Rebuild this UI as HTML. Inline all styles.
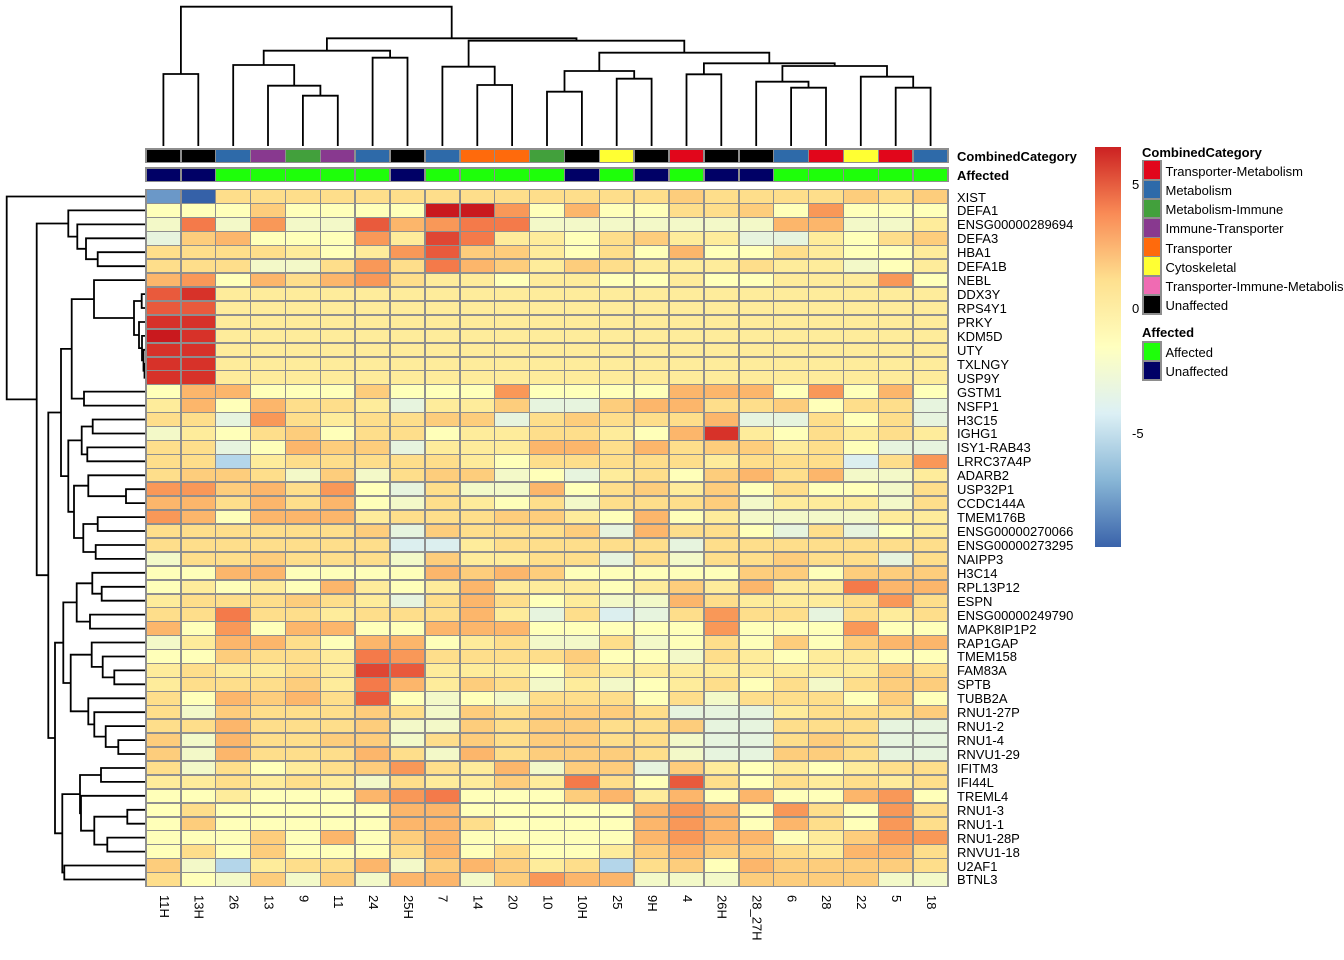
<!DOCTYPE html>
<html><head><meta charset="utf-8"><style>
*{margin:0;padding:0;box-sizing:border-box}
body{width:1344px;height:960px;overflow:hidden;background:#fff;position:relative;font-family:"Liberation Sans",Arial,sans-serif;color:#000}
.hm{position:absolute;left:145.25px;top:188.75px;width:803.5px;height:698.5px;padding:1.5px;background:#8e8e8e;display:grid;grid-template-columns:repeat(23,1fr);grid-template-rows:repeat(50,1fr);gap:1.5px}
.hm i,.an i,.kg i{display:block}
.an{position:absolute;left:145.25px;width:803.5px;height:15.2px;padding:1.5px;background:#8e8e8e;display:grid;grid-template-columns:repeat(23,1fr);gap:1.5px}
.R{background:#c9191e}.r{background:#d73229}.s{background:#df4633}.e{background:#e95a3c}.O{background:#f47a4a}.o{background:#f99858}.p{background:#fcb66b}.q{background:#fdcd7c}.k{background:#fede8b}.y{background:#feec9b}.Y{background:#ffffb9}.g{background:#f3f9c8}.G{background:#e7f4de}.c{background:#dcefef}.b{background:#b4d6ea}.B{background:#6b98c8}.D{background:#3561a8}
.a1{background:#e1061b}.a2{background:#2e6aa9}.a3{background:#42a03c}.a4{background:#88398f}.a5{background:#ff6a0c}.a6{background:#ffff33}.a7{background:#f06bb3}.a0{background:#000}.af{background:#1eff0a}.au{background:#000066}
.rl{position:absolute;left:957px;top:190.5px;font-size:13px}
.rl div{height:13.94px;line-height:13.94px;white-space:nowrap}
.cl{position:absolute;left:146px;top:895px;display:flex;font-size:13px}
.cl div{width:34.87px;writing-mode:vertical-rl;line-height:34.87px;white-space:nowrap}
.t{position:absolute;font-size:13px;line-height:16px;white-space:nowrap}
.bd{font-weight:bold}
.kg{position:absolute;left:1142px;width:19.5px;padding:1.5px;background:#8e8e8e;display:grid;gap:1.5px}
.cb{position:absolute;left:1095px;top:146.7px;width:26px;height:400px;background:linear-gradient(to top,#3a63aa 0%,#88b6d6 16.67%,#dcf0f5 33.33%,#ffffbf 50%,#fee08f 66.67%,#f98b56 83.33%,#cc2122 100%)}
svg{position:absolute;left:0;top:0}
</style></head><body>
<svg width="1344" height="960" viewBox="0 0 1344 960"><g fill="none" stroke="#000" stroke-width="1.8" stroke-linejoin="miter">
<path d="M146 252.2H97.7V266.2H146"/><path d="M146 238.3H86V259.2H97.7"/><path d="M146 224.4H77.3V248.8H86"/><path d="M146 210.4H68.3V236.6H77.3"/>
<path d="M146 294.1H141.7V308H146"/><path d="M146 363.8H144.5V377.7H146"/><path d="M146 349.8H143.5V370.7H144.5"/><path d="M146 335.9H142V360.3H143.5"/><path d="M146 322H139V348.1H142"/><path d="M141.7 301H134V335H139"/><path d="M146 280.1H94V318H134"/>
<path d="M146 391.6H84V405.6H146"/><path d="M94 299.1H71.7V398.6H84"/>
<path d="M146 419.5H92.7V433.5H146"/><path d="M146 447.4H87.3V461.3H146"/><path d="M92.7 426.5H81.7V454.4H87.3"/>
<path d="M146 489.2H126V503.1H146"/><path d="M146 475.3H88.3V496.2H126"/><path d="M146 517.1H97.7V531H146"/><path d="M146 545H95.7V558.9H146"/><path d="M97.7 524H83.3V552H95.7"/><path d="M88.3 485.7H74V538H83.3"/><path d="M81.7 440.4H68.3V511.8H74"/><path d="M71.7 348.9H61V476.1H68.3"/>
<path d="M146 586.8H101.7V600.7H146"/><path d="M146 572.8H92.3V593.7H101.7"/><path d="M146 614.6H90V628.6H146"/><path d="M92.3 583.3H76.7V621.6H90"/>
<path d="M146 670.4H114.3V684.3H146"/><path d="M146 656.5H102.7V677.4H114.3"/><path d="M146 642.5H91.7V666.9H102.7"/>
<path d="M146 740.1H118.3V754H146"/><path d="M146 726.1H105.7V747H118.3"/><path d="M146 712.2H94.3V736.6H105.7"/><path d="M146 698.3H88.3V724.4H94.3"/><path d="M91.7 654.7H70.7V711.3H88.3"/><path d="M76.7 602.4H63.3V683H70.7"/>
<path d="M146 768H101V781.9H146"/><path d="M146 809.8H127.3V823.7H146"/><path d="M146 837.6H107.3V851.6H146"/><path d="M127.3 816.7H94.3V844.6H107.3"/><path d="M146 795.8H81V830.7H94.3"/><path d="M101 775H80V813.2H81"/><path d="M146 865.5H64.3V879.5H146"/><path d="M80 794.1H62.3V872.5H64.3"/><path d="M63.3 642.7H55V833.3H62.3"/><path d="M61 412.5H48.3V738H55"/><path d="M68.3 223.5H36.7V575.2H48.3"/><path d="M146 196.5H6.7V399.4H36.7"/>
<path d="M163.4 146V74H198.3V146"/><path d="M302.9 146V95.7H337.8V146"/><path d="M268 146V85.7H320.4V95.7"/><path d="M233.2 146V65H294.2V85.7"/><path d="M372.6 146V57.7H407.5V146"/><path d="M263.7 65V50.7H390.1V57.7"/>
<path d="M477.3 146V85H512.1V146"/><path d="M442.4 146V66.7H494.7V85"/><path d="M547 146V91.7H581.9V146"/><path d="M616.7 146V78.7H651.6V146"/><path d="M564.5 91.7V71H634.2V78.7"/>
<path d="M686.5 146V74.3H721.3V146"/><path d="M791.1 146V87.7H826V146"/><path d="M756.2 146V81.7H808.5V87.7"/><path d="M895.7 146V87.7H930.6V146"/><path d="M860.8 146V76.7H913.2V87.7"/><path d="M782.4 81.7V66H887V76.7"/><path d="M703.9 74.3V63.3H834.7V66"/><path d="M599.3 71V52.7H769.3V63.3"/><path d="M468.6 66.7V40.7H684.3V52.7"/><path d="M326.9 50.7V38.3H576.5V40.7"/><path d="M180.9 74V6.7H451.7V38.3"/>
</g></svg>

<div class="an" style="top:148.2px"><i class=a0></i><i class=a0></i><i class=a2></i><i class=a4></i><i class=a3></i><i class=a4></i><i class=a2></i><i class=a0></i><i class=a2></i><i class=a5></i><i class=a5></i><i class=a3></i><i class=a0></i><i class=a6></i><i class=a0></i><i class=a1></i><i class=a0></i><i class=a0></i><i class=a2></i><i class=a1></i><i class=a6></i><i class=a1></i><i class=a2></i></div>
<div class="an" style="top:167.2px"><i class=au></i><i class=au></i><i class=af></i><i class=af></i><i class=af></i><i class=af></i><i class=af></i><i class=au></i><i class=af></i><i class=af></i><i class=af></i><i class=af></i><i class=au></i><i class=af></i><i class=au></i><i class=af></i><i class=au></i><i class=au></i><i class=af></i><i class=af></i><i class=af></i><i class=af></i><i class=af></i></div>
<div class="t bd" style="left:957px;top:149px">CombinedCategory</div>
<div class="t bd" style="left:957px;top:168px">Affected</div>

<div class="hm">
<i class=B></i><i class=D></i><i class=k></i><i class=k></i><i class=k></i><i class=k></i><i class=k></i><i class=k></i><i class=k></i><i class=k></i><i class=k></i><i class=k></i><i class=k></i><i class=k></i><i class=k></i><i class=q></i><i class=k></i><i class=k></i><i class=k></i><i class=k></i><i class=q></i><i class=k></i><i class=q></i>
<i class=Y></i><i class=Y></i><i class=Y></i><i class=q></i><i class=Y></i><i class=Y></i><i class=Y></i><i class=Y></i><i class=R></i><i class=R></i><i class=o></i><i class=Y></i><i class=p></i><i class=Y></i><i class=Y></i><i class=k></i><i class=k></i><i class=q></i><i class=Y></i><i class=o></i><i class=Y></i><i class=Y></i><i class=Y></i>
<i class=g></i><i class=O></i><i class=g></i><i class=o></i><i class=g></i><i class=g></i><i class=e></i><i class=p></i><i class=o></i><i class=O></i><i class=O></i><i class=g></i><i class=g></i><i class=g></i><i class=g></i><i class=g></i><i class=g></i><i class=g></i><i class=p></i><i class=p></i><i class=g></i><i class=g></i><i class=y></i>
<i class=G></i><i class=q></i><i class=p></i><i class=Y></i><i class=Y></i><i class=Y></i><i class=o></i><i class=y></i><i class=s></i><i class=O></i><i class=y></i><i class=y></i><i class=Y></i><i class=k></i><i class=q></i><i class=y></i><i class=y></i><i class=G></i><i class=G></i><i class=y></i><i class=Y></i><i class=k></i><i class=q></i>
<i class=k></i><i class=k></i><i class=k></i><i class=k></i><i class=y></i><i class=Y></i><i class=y></i><i class=o></i><i class=e></i><i class=q></i><i class=q></i><i class=y></i><i class=Y></i><i class=k></i><i class=Y></i><i class=p></i><i class=Y></i><i class=Y></i><i class=k></i><i class=y></i><i class=Y></i><i class=Y></i><i class=y></i>
<i class=k></i><i class=k></i><i class=k></i><i class=g></i><i class=g></i><i class=k></i><i class=o></i><i class=k></i><i class=O></i><i class=p></i><i class=q></i><i class=y></i><i class=q></i><i class=k></i><i class=y></i><i class=y></i><i class=y></i><i class=k></i><i class=y></i><i class=y></i><i class=g></i><i class=Y></i><i class=y></i>
<i class=p></i><i class=o></i><i class=Y></i><i class=p></i><i class=k></i><i class=p></i><i class=o></i><i class=k></i><i class=y></i><i class=y></i><i class=Y></i><i class=y></i><i class=y></i><i class=Y></i><i class=Y></i><i class=y></i><i class=Y></i><i class=Y></i><i class=y></i><i class=y></i><i class=y></i><i class=o></i><i class=Y></i>
<i class=e></i><i class=r></i><i class=y></i><i class=y></i><i class=y></i><i class=y></i><i class=y></i><i class=y></i><i class=y></i><i class=y></i><i class=y></i><i class=y></i><i class=y></i><i class=y></i><i class=y></i><i class=y></i><i class=y></i><i class=y></i><i class=y></i><i class=y></i><i class=y></i><i class=y></i><i class=y></i>
<i class=e></i><i class=e></i><i class=y></i><i class=y></i><i class=y></i><i class=y></i><i class=y></i><i class=y></i><i class=y></i><i class=y></i><i class=y></i><i class=y></i><i class=y></i><i class=y></i><i class=y></i><i class=y></i><i class=y></i><i class=y></i><i class=y></i><i class=y></i><i class=y></i><i class=y></i><i class=y></i>
<i class=r></i><i class=r></i><i class=y></i><i class=y></i><i class=y></i><i class=y></i><i class=y></i><i class=y></i><i class=y></i><i class=y></i><i class=y></i><i class=y></i><i class=y></i><i class=y></i><i class=y></i><i class=y></i><i class=y></i><i class=y></i><i class=y></i><i class=y></i><i class=y></i><i class=y></i><i class=y></i>
<i class=R></i><i class=r></i><i class=y></i><i class=y></i><i class=y></i><i class=y></i><i class=y></i><i class=y></i><i class=y></i><i class=y></i><i class=y></i><i class=y></i><i class=y></i><i class=y></i><i class=y></i><i class=y></i><i class=y></i><i class=y></i><i class=y></i><i class=y></i><i class=y></i><i class=y></i><i class=y></i>
<i class=r></i><i class=r></i><i class=y></i><i class=y></i><i class=y></i><i class=y></i><i class=y></i><i class=y></i><i class=y></i><i class=y></i><i class=y></i><i class=y></i><i class=y></i><i class=y></i><i class=y></i><i class=y></i><i class=y></i><i class=y></i><i class=y></i><i class=y></i><i class=y></i><i class=y></i><i class=y></i>
<i class=r></i><i class=r></i><i class=y></i><i class=y></i><i class=y></i><i class=y></i><i class=y></i><i class=y></i><i class=y></i><i class=y></i><i class=y></i><i class=y></i><i class=y></i><i class=y></i><i class=y></i><i class=y></i><i class=y></i><i class=y></i><i class=y></i><i class=y></i><i class=y></i><i class=y></i><i class=y></i>
<i class=r></i><i class=r></i><i class=y></i><i class=y></i><i class=y></i><i class=y></i><i class=y></i><i class=y></i><i class=y></i><i class=y></i><i class=y></i><i class=y></i><i class=y></i><i class=y></i><i class=y></i><i class=y></i><i class=y></i><i class=y></i><i class=y></i><i class=y></i><i class=y></i><i class=y></i><i class=y></i>
<i class=Y></i><i class=p></i><i class=p></i><i class=Y></i><i class=Y></i><i class=Y></i><i class=q></i><i class=Y></i><i class=Y></i><i class=Y></i><i class=o></i><i class=Y></i><i class=Y></i><i class=Y></i><i class=Y></i><i class=p></i><i class=p></i><i class=p></i><i class=Y></i><i class=o></i><i class=Y></i><i class=p></i><i class=Y></i>
<i class=y></i><i class=p></i><i class=Y></i><i class=p></i><i class=k></i><i class=k></i><i class=y></i><i class=G></i><i class=y></i><i class=y></i><i class=q></i><i class=G></i><i class=G></i><i class=q></i><i class=p></i><i class=p></i><i class=k></i><i class=k></i><i class=q></i><i class=Y></i><i class=k></i><i class=k></i><i class=G></i>
<i class=k></i><i class=k></i><i class=G></i><i class=o></i><i class=k></i><i class=y></i><i class=k></i><i class=k></i><i class=q></i><i class=q></i><i class=G></i><i class=k></i><i class=q></i><i class=k></i><i class=k></i><i class=k></i><i class=p></i><i class=G></i><i class=G></i><i class=k></i><i class=Y></i><i class=k></i><i class=G></i>
<i class=g></i><i class=y></i><i class=Y></i><i class=k></i><i class=q></i><i class=Y></i><i class=k></i><i class=k></i><i class=Y></i><i class=y></i><i class=y></i><i class=k></i><i class=k></i><i class=y></i><i class=Y></i><i class=p></i><i class=r></i><i class=y></i><i class=Y></i><i class=k></i><i class=y></i><i class=k></i><i class=y></i>
<i class=k></i><i class=k></i><i class=G></i><i class=Y></i><i class=p></i><i class=q></i><i class=q></i><i class=G></i><i class=y></i><i class=y></i><i class=y></i><i class=p></i><i class=p></i><i class=k></i><i class=p></i><i class=k></i><i class=q></i><i class=q></i><i class=y></i><i class=k></i><i class=Y></i><i class=G></i><i class=G></i>
<i class=k></i><i class=k></i><i class=b></i><i class=y></i><i class=k></i><i class=k></i><i class=k></i><i class=k></i><i class=k></i><i class=y></i><i class=Y></i><i class=k></i><i class=k></i><i class=k></i><i class=k></i><i class=k></i><i class=y></i><i class=k></i><i class=k></i><i class=k></i><i class=c></i><i class=k></i><i class=o></i>
<i class=k></i><i class=q></i><i class=q></i><i class=k></i><i class=g></i><i class=q></i><i class=g></i><i class=k></i><i class=q></i><i class=q></i><i class=g></i><i class=Y></i><i class=G></i><i class=y></i><i class=k></i><i class=Y></i><i class=q></i><i class=p></i><i class=k></i><i class=p></i><i class=g></i><i class=g></i><i class=y></i>
<i class=o></i><i class=o></i><i class=q></i><i class=p></i><i class=k></i><i class=o></i><i class=Y></i><i class=G></i><i class=k></i><i class=g></i><i class=g></i><i class=p></i><i class=Y></i><i class=k></i><i class=q></i><i class=y></i><i class=q></i><i class=Y></i><i class=k></i><i class=Y></i><i class=Y></i><i class=g></i><i class=k></i>
<i class=p></i><i class=p></i><i class=k></i><i class=p></i><i class=k></i><i class=p></i><i class=Y></i><i class=g></i><i class=k></i><i class=y></i><i class=Y></i><i class=k></i><i class=g></i><i class=k></i><i class=k></i><i class=k></i><i class=q></i><i class=g></i><i class=y></i><i class=y></i><i class=y></i><i class=g></i><i class=k></i>
<i class=o></i><i class=p></i><i class=Y></i><i class=p></i><i class=p></i><i class=p></i><i class=y></i><i class=k></i><i class=k></i><i class=k></i><i class=q></i><i class=q></i><i class=y></i><i class=Y></i><i class=p></i><i class=Y></i><i class=y></i><i class=g></i><i class=g></i><i class=g></i><i class=g></i><i class=y></i><i class=y></i>
<i class=k></i><i class=k></i><i class=k></i><i class=k></i><i class=k></i><i class=k></i><i class=q></i><i class=G></i><i class=q></i><i class=k></i><i class=k></i><i class=k></i><i class=q></i><i class=G></i><i class=p></i><i class=k></i><i class=k></i><i class=Y></i><i class=G></i><i class=k></i><i class=G></i><i class=Y></i><i class=y></i>
<i class=k></i><i class=k></i><i class=k></i><i class=k></i><i class=k></i><i class=k></i><i class=k></i><i class=c></i><i class=c></i><i class=y></i><i class=k></i><i class=k></i><i class=k></i><i class=k></i><i class=k></i><i class=G></i><i class=k></i><i class=k></i><i class=k></i><i class=k></i><i class=k></i><i class=k></i><i class=k></i>
<i class=g></i><i class=k></i><i class=k></i><i class=q></i><i class=k></i><i class=k></i><i class=k></i><i class=g></i><i class=q></i><i class=y></i><i class=y></i><i class=k></i><i class=k></i><i class=G></i><i class=k></i><i class=g></i><i class=k></i><i class=k></i><i class=q></i><i class=k></i><i class=k></i><i class=G></i><i class=k></i>
<i class=Y></i><i class=Y></i><i class=p></i><i class=p></i><i class=Y></i><i class=Y></i><i class=Y></i><i class=Y></i><i class=p></i><i class=q></i><i class=p></i><i class=q></i><i class=Y></i><i class=Y></i><i class=Y></i><i class=Y></i><i class=Y></i><i class=q></i><i class=q></i><i class=Y></i><i class=q></i><i class=q></i><i class=q></i>
<i class=Y></i><i class=y></i><i class=Y></i><i class=y></i><i class=Y></i><i class=p></i><i class=y></i><i class=Y></i><i class=y></i><i class=p></i><i class=y></i><i class=y></i><i class=y></i><i class=Y></i><i class=y></i><i class=q></i><i class=y></i><i class=p></i><i class=y></i><i class=y></i><i class=O></i><i class=p></i><i class=p></i>
<i class=y></i><i class=k></i><i class=k></i><i class=k></i><i class=q></i><i class=k></i><i class=y></i><i class=G></i><i class=k></i><i class=p></i><i class=k></i><i class=Y></i><i class=y></i><i class=g></i><i class=g></i><i class=p></i><i class=k></i><i class=y></i><i class=y></i><i class=y></i><i class=k></i><i class=o></i><i class=k></i>
<i class=k></i><i class=k></i><i class=O></i><i class=k></i><i class=k></i><i class=y></i><i class=k></i><i class=k></i><i class=k></i><i class=p></i><i class=y></i><i class=G></i><i class=k></i><i class=c></i><i class=G></i><i class=k></i><i class=o></i><i class=k></i><i class=k></i><i class=G></i><i class=k></i><i class=y></i><i class=k></i>
<i class=p></i><i class=Y></i><i class=o></i><i class=Y></i><i class=p></i><i class=p></i><i class=Y></i><i class=Y></i><i class=p></i><i class=p></i><i class=p></i><i class=Y></i><i class=Y></i><i class=Y></i><i class=Y></i><i class=Y></i><i class=o></i><i class=Y></i><i class=Y></i><i class=Y></i><i class=o></i><i class=Y></i><i class=Y></i>
<i class=g></i><i class=y></i><i class=p></i><i class=p></i><i class=k></i><i class=Y></i><i class=p></i><i class=p></i><i class=Y></i><i class=y></i><i class=k></i><i class=g></i><i class=g></i><i class=k></i><i class=g></i><i class=Y></i><i class=k></i><i class=Y></i><i class=q></i><i class=Y></i><i class=q></i><i class=p></i><i class=p></i>
<i class=Y></i><i class=Y></i><i class=q></i><i class=k></i><i class=k></i><i class=y></i><i class=O></i><i class=o></i><i class=k></i><i class=k></i><i class=k></i><i class=k></i><i class=q></i><i class=Y></i><i class=Y></i><i class=g></i><i class=k></i><i class=y></i><i class=Y></i><i class=y></i><i class=y></i><i class=Y></i><i class=Y></i>
<i class=y></i><i class=k></i><i class=y></i><i class=y></i><i class=k></i><i class=y></i><i class=s></i><i class=e></i><i class=y></i><i class=y></i><i class=y></i><i class=Y></i><i class=k></i><i class=y></i><i class=y></i><i class=y></i><i class=y></i><i class=y></i><i class=y></i><i class=y></i><i class=y></i><i class=q></i><i class=k></i>
<i class=y></i><i class=k></i><i class=k></i><i class=k></i><i class=q></i><i class=y></i><i class=O></i><i class=p></i><i class=y></i><i class=q></i><i class=k></i><i class=g></i><i class=y></i><i class=g></i><i class=Y></i><i class=y></i><i class=k></i><i class=Y></i><i class=k></i><i class=g></i><i class=k></i><i class=q></i><i class=q></i>
<i class=k></i><i class=Y></i><i class=p></i><i class=q></i><i class=p></i><i class=k></i><i class=e></i><i class=Y></i><i class=g></i><i class=Y></i><i class=g></i><i class=k></i><i class=k></i><i class=k></i><i class=Y></i><i class=k></i><i class=g></i><i class=k></i><i class=k></i><i class=k></i><i class=Y></i><i class=q></i><i class=Y></i>
<i class=k></i><i class=g></i><i class=q></i><i class=k></i><i class=k></i><i class=k></i><i class=q></i><i class=k></i><i class=g></i><i class=q></i><i class=k></i><i class=q></i><i class=q></i><i class=q></i><i class=k></i><i class=G></i><i class=G></i><i class=G></i><i class=y></i><i class=k></i><i class=k></i><i class=k></i><i class=q></i>
<i class=k></i><i class=k></i><i class=p></i><i class=k></i><i class=k></i><i class=k></i><i class=q></i><i class=g></i><i class=g></i><i class=q></i><i class=k></i><i class=q></i><i class=q></i><i class=k></i><i class=k></i><i class=q></i><i class=G></i><i class=G></i><i class=k></i><i class=k></i><i class=k></i><i class=G></i><i class=G></i>
<i class=q></i><i class=g></i><i class=p></i><i class=k></i><i class=k></i><i class=q></i><i class=q></i><i class=g></i><i class=k></i><i class=q></i><i class=k></i><i class=q></i><i class=q></i><i class=k></i><i class=k></i><i class=g></i><i class=G></i><i class=G></i><i class=k></i><i class=q></i><i class=k></i><i class=G></i><i class=G></i>
<i class=q></i><i class=g></i><i class=p></i><i class=k></i><i class=k></i><i class=k></i><i class=p></i><i class=k></i><i class=g></i><i class=p></i><i class=k></i><i class=q></i><i class=q></i><i class=q></i><i class=k></i><i class=g></i><i class=G></i><i class=G></i><i class=q></i><i class=q></i><i class=k></i><i class=G></i><i class=G></i>
<i class=k></i><i class=g></i><i class=k></i><i class=Y></i><i class=y></i><i class=k></i><i class=q></i><i class=o></i><i class=k></i><i class=y></i><i class=p></i><i class=g></i><i class=q></i><i class=q></i><i class=G></i><i class=q></i><i class=y></i><i class=Y></i><i class=y></i><i class=Y></i><i class=y></i><i class=k></i><i class=k></i>
<i class=y></i><i class=y></i><i class=k></i><i class=y></i><i class=k></i><i class=y></i><i class=g></i><i class=k></i><i class=y></i><i class=y></i><i class=q></i><i class=y></i><i class=O></i><i class=k></i><i class=Y></i><i class=e></i><i class=k></i><i class=Y></i><i class=k></i><i class=y></i><i class=k></i><i class=y></i><i class=k></i>
<i class=Y></i><i class=Y></i><i class=y></i><i class=Y></i><i class=Y></i><i class=Y></i><i class=p></i><i class=o></i><i class=O></i><i class=Y></i><i class=Y></i><i class=Y></i><i class=q></i><i class=p></i><i class=y></i><i class=p></i><i class=Y></i><i class=p></i><i class=Y></i><i class=Y></i><i class=p></i><i class=o></i><i class=Y></i>
<i class=Y></i><i class=k></i><i class=Y></i><i class=Y></i><i class=Y></i><i class=Y></i><i class=Y></i><i class=p></i><i class=p></i><i class=Y></i><i class=Y></i><i class=Y></i><i class=Y></i><i class=Y></i><i class=p></i><i class=o></i><i class=p></i><i class=Y></i><i class=o></i><i class=k></i><i class=Y></i><i class=o></i><i class=k></i>
<i class=Y></i><i class=q></i><i class=Y></i><i class=Y></i><i class=Y></i><i class=Y></i><i class=Y></i><i class=p></i><i class=p></i><i class=k></i><i class=Y></i><i class=Y></i><i class=Y></i><i class=Y></i><i class=p></i><i class=o></i><i class=p></i><i class=Y></i><i class=p></i><i class=k></i><i class=Y></i><i class=o></i><i class=k></i>
<i class=Y></i><i class=Y></i><i class=Y></i><i class=q></i><i class=Y></i><i class=p></i><i class=Y></i><i class=q></i><i class=p></i><i class=Y></i><i class=Y></i><i class=Y></i><i class=Y></i><i class=Y></i><i class=p></i><i class=o></i><i class=p></i><i class=p></i><i class=Y></i><i class=y></i><i class=q></i><i class=o></i><i class=o></i>
<i class=Y></i><i class=k></i><i class=Y></i><i class=q></i><i class=Y></i><i class=Y></i><i class=Y></i><i class=k></i><i class=p></i><i class=Y></i><i class=k></i><i class=Y></i><i class=Y></i><i class=y></i><i class=q></i><i class=p></i><i class=q></i><i class=q></i><i class=k></i><i class=y></i><i class=p></i><i class=p></i><i class=k></i>
<i class=q></i><i class=g></i><i class=b></i><i class=y></i><i class=k></i><i class=k></i><i class=p></i><i class=g></i><i class=q></i><i class=p></i><i class=q></i><i class=y></i><i class=k></i><i class=b></i><i class=k></i><i class=q></i><i class=Y></i><i class=p></i><i class=q></i><i class=q></i><i class=q></i><i class=q></i><i class=k></i>
<i class=k></i><i class=Y></i><i class=g></i><i class=q></i><i class=g></i><i class=q></i><i class=g></i><i class=p></i><i class=p></i><i class=g></i><i class=q></i><i class=o></i><i class=p></i><i class=p></i><i class=g></i><i class=g></i><i class=g></i><i class=q></i><i class=q></i><i class=q></i><i class=q></i><i class=g></i><i class=g></i>
</div>

<div class="rl">
<div>XIST</div><div>DEFA1</div><div>ENSG00000289694</div><div>DEFA3</div><div>HBA1</div><div>DEFA1B</div><div>NEBL</div><div>DDX3Y</div><div>RPS4Y1</div><div>PRKY</div><div>KDM5D</div><div>UTY</div><div>TXLNGY</div><div>USP9Y</div><div>GSTM1</div><div>NSFP1</div><div>H3C15</div><div>IGHG1</div><div>ISY1-RAB43</div><div>LRRC37A4P</div><div>ADARB2</div><div>USP32P1</div><div>CCDC144A</div><div>TMEM176B</div><div>ENSG00000270066</div><div>ENSG00000273295</div><div>NAIPP3</div><div>H3C14</div><div>RPL13P12</div><div>ESPN</div><div>ENSG00000249790</div><div>MAPK8IP1P2</div><div>RAP1GAP</div><div>TMEM158</div><div>FAM83A</div><div>SPTB</div><div>TUBB2A</div><div>RNU1-27P</div><div>RNU1-2</div><div>RNU1-4</div><div>RNVU1-29</div><div>IFITM3</div><div>IFI44L</div><div>TREML4</div><div>RNU1-3</div><div>RNU1-1</div><div>RNU1-28P</div><div>RNVU1-18</div><div>U2AF1</div><div>BTNL3</div>
</div>

<div class="cl">
<div>11H</div><div>13H</div><div>26</div><div>13</div><div>9</div><div>11</div><div>24</div><div>25H</div><div>7</div><div>14</div><div>20</div><div>10</div><div>10H</div><div>25</div><div>9H</div><div>4</div><div>26H</div><div>28_27H</div><div>6</div><div>28</div><div>22</div><div>5</div><div>18</div>
</div>

<div class="cb"></div>
<div class="t" style="left:1132px;top:177px">5</div>
<div class="t" style="left:1132px;top:301px">0</div>
<div class="t" style="left:1132px;top:426px">-5</div>

<div class="t bd" style="left:1142px;top:145px">CombinedCategory</div>
<div class="kg" style="top:159.9px;height:155.1px;grid-template-rows:repeat(8,1fr)"><i class=a1></i><i class=a2></i><i class=a3></i><i class=a4></i><i class=a5></i><i class=a6></i><i class=a7></i><i class=a0></i></div>
<div class="t" style="left:1165.5px;top:163.8px">Transporter-Metabolism</div>
<div class="t" style="left:1165.5px;top:183px">Metabolism</div>
<div class="t" style="left:1165.5px;top:202.2px">Metabolism-Immune</div>
<div class="t" style="left:1165.5px;top:221.4px">Immune-Transporter</div>
<div class="t" style="left:1165.5px;top:240.6px">Transporter</div>
<div class="t" style="left:1165.5px;top:259.8px">Cytoskeletal</div>
<div class="t" style="left:1165.5px;top:279px">Transporter-Immune-Metabolism</div>
<div class="t" style="left:1165.5px;top:298.2px">Unaffected</div>

<div class="t bd" style="left:1142px;top:325.3px">Affected</div>
<div class="kg" style="top:341px;height:39.9px;grid-template-rows:repeat(2,1fr)"><i class=af></i><i class=au></i></div>
<div class="t" style="left:1165.5px;top:344.8px">Affected</div>
<div class="t" style="left:1165.5px;top:364px">Unaffected</div>
</body></html>
